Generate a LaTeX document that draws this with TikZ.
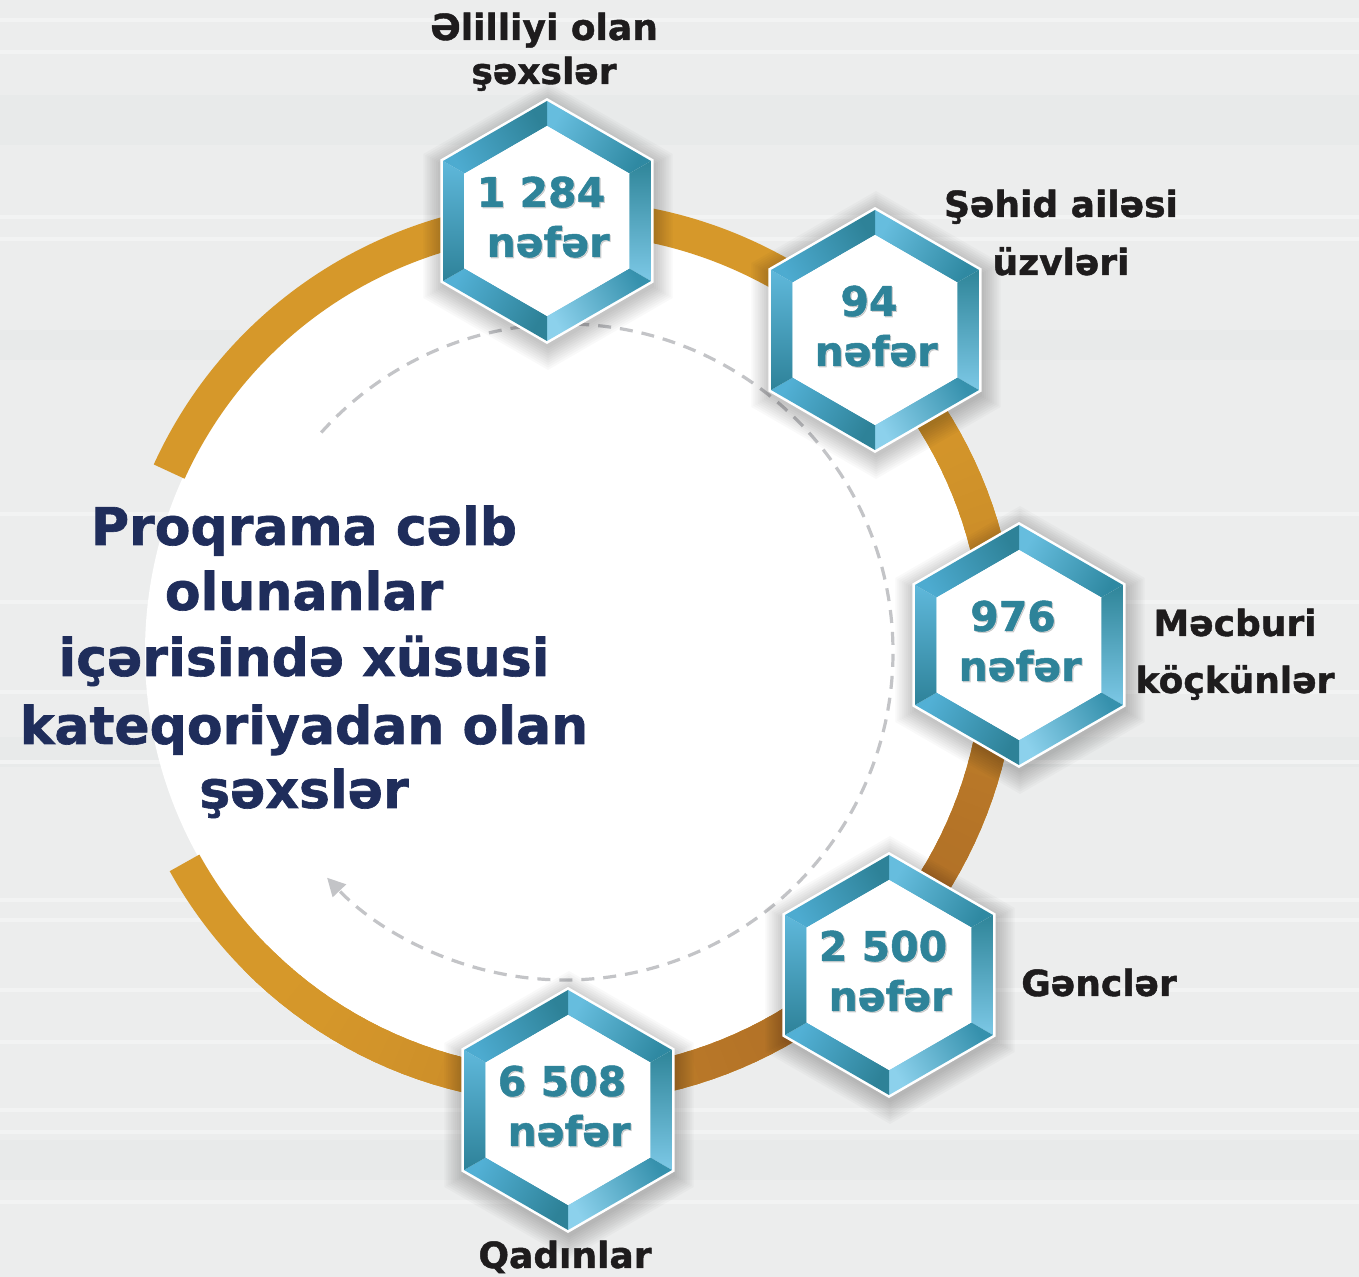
\documentclass[tikz,border=0pt]{standalone}
\usepackage{fontspec}
\setmainfont{DejaVu Sans}
\newfontfamily\heavyfont{DejaVu Sans Bold}[FakeBold=1.2]
\usetikzlibrary{arrows.meta}

\definecolor{bgcol}{HTML}{ECEDED}
\definecolor{stripecol}{HTML}{F2F3F3}
\definecolor{bandcol}{HTML}{E8EAEA}
\definecolor{ringgold}{HTML}{D6982A}
\definecolor{ringbrown}{HTML}{B06F27}
\definecolor{hexteal}{HTML}{2E8399}
\definecolor{navytxt}{HTML}{1F2D5B}
\definecolor{dashgray}{HTML}{C3C4C7}
\definecolor{labtxt}{HTML}{1E1C1D}

\newcommand\hexpath[1]{(90:#1) -- (30:#1) -- (-30:#1) -- (-90:#1) -- (-150:#1) -- (150:#1) -- cycle}

\newcommand\hexbox[4]{%
\begin{scope}[shift={(#1,#2)}]
  \foreach \k in {1,...,10}{
    \fill[black, opacity=0.022] [shift={(1,-5)}] \hexpath{120+2.4*\k};
  }
  \fill[white] \hexpath{123};
  \shade[left color=hexTRs, middle color=hexTRm, right color=hexTRe, shading angle=60]
    (90:120) -- (30:120) -- (30:95) -- (90:95) -- cycle;
  \shade[left color=hexRs, middle color=hexRm, right color=hexRe, shading angle=0]
    (30:120) -- (-30:120) -- (-30:95) -- (30:95) -- cycle;
  \shade[left color=hexBRs, middle color=hexBRm, right color=hexBRe, shading angle=-60]
    (-30:120) -- (-90:120) -- (-90:95) -- (-30:95) -- cycle;
  \shade[left color=hexBLs, middle color=hexBLm, right color=hexBLe, shading angle=-120]
    (-90:120) -- (-150:120) -- (-150:95) -- (-90:95) -- cycle;
  \shade[left color=hexLs, middle color=hexLm, right color=hexLe, shading angle=180]
    (-150:120) -- (150:120) -- (150:95) -- (-150:95) -- cycle;
  \shade[left color=hexTLs, middle color=hexTLm, right color=hexTLe, shading angle=120]
    (150:120) -- (90:120) -- (90:95) -- (150:95) -- cycle;
  \fill[white] \hexpath{95};
  \node[numshadow] (ns#3) at (-4.8,12.8) {#4};
  \node[numtxt] (n#3) at (-6,14) {#4};
  \node[numshadow] (fs#3) at (2.2,-37.2) {nəfər};
  \node[numtxt] (f#3) at (1,-36) {nəfər};
\end{scope}}

\definecolor{hexTRs}{HTML}{66BDDE}\definecolor{hexTRm}{HTML}{A8DEF3}\definecolor{hexTRe}{HTML}{2F89A2}
\definecolor{hexRs}{HTML}{2F8599}\definecolor{hexRm}{HTML}{4AAAD0}\definecolor{hexRe}{HTML}{7CC8E6}
\definecolor{hexBRs}{HTML}{3691AD}\definecolor{hexBRm}{HTML}{5DB7DA}\definecolor{hexBRe}{HTML}{8CD1EC}
\definecolor{hexBLs}{HTML}{2E8298}\definecolor{hexBLm}{HTML}{A3DBF1}\definecolor{hexBLe}{HTML}{52B0D5}
\definecolor{hexLs}{HTML}{2E8299}\definecolor{hexLm}{HTML}{47A6CC}\definecolor{hexLe}{HTML}{5FB8DB}
\definecolor{hexTLs}{HTML}{4DABD0}\definecolor{hexTLm}{HTML}{6ABFE0}\definecolor{hexTLe}{HTML}{2E8298}

\begin{document}
\begin{tikzpicture}[x=0.5pt,y=0.5pt,
  labeltxt/.style={font=\heavyfont\fontsize{18}{18}\selectfont, text=labtxt, anchor=base, inner sep=0pt},
  titletxt/.style={font=\heavyfont\fontsize{26}{26}\selectfont, text=navytxt, anchor=base, inner sep=0pt},
  numtxt/.style={font=\heavyfont\fontsize{20.5}{20.5}\selectfont, text=hexteal, anchor=base, inner sep=0pt},
  numshadow/.style={numtxt, text=black, text opacity=0.15},
  stripe/.style={fill=stripecol},
  ringline/.style={line width=17pt, line cap=butt},
  dasharc/.style={dashgray, line width=1.6pt, dash pattern=on 6.5pt off 4.5pt}
]
\useasboundingbox (0,0) rectangle (1359,1277);
% background
\fill[bgcol] (0,0) rectangle (1359,1277);
\foreach \yb/\h in {1132/50, 917/30, 97/40, 510/30}{
  \fill[bandcol] (0,\yb) rectangle (1359,\yb+\h);
}
\foreach \ys in {18,50,215,237,512,600,690,760,898,918,988,1040,1108,1130,1200}{
  \fill[stripe] (0,1277-\ys) rectangle (1359,1277-\ys-4);
}
\coordinate (c) at (565,625);
% white disc
\fill[white] (c) circle[radius=420];
% ring
\draw[ringline, ringgold] (c) ++(155.5:435) arc[start angle=155.5, end angle=-151, radius=435];
\foreach \a in {44,42,...,-134}{
  \pgfmathsetmacro{\cc}{max(0,cos(\a+45))}
  \pgfmathsetmacro{\w}{100*\cc*\cc}
  \draw[ringline, color=ringbrown!\w!ringgold] (c) ++(\a+1.4:435) arc[start angle=\a+1.4, end angle=\a-1.4, radius=435];
}
% dashed arc
\draw[dasharc, -{Triangle[length=9pt,width=9pt]}] (c) ++(138:328) arc[start angle=138, end angle=-136.5, radius=328];
% hexagons
\hexbox{547}{1056}{1}{1 284}
\hexbox{875}{947}{2}{94}
\hexbox{1019}{632}{3}{976}
\hexbox{889}{302}{4}{2 500}
\hexbox{568}{167}{5}{6 508}
% labels
\node[labeltxt] (l1a) at (544,1237) {Əlilliyi olan};
\node[labeltxt] (l1b) at (544,1193) {şəxslər};
\node[labeltxt] (l2a) at (1061,1060) {Şəhid ailəsi};
\node[labeltxt] (l2b) at (1061,1002) {üzvləri};
\node[labeltxt] (l3a) at (1235,641) {Məcburi};
\node[labeltxt] (l3b) at (1235,584) {köçkünlər};
\node[labeltxt] (l4) at (1099,281) {Gənclər};
\node[labeltxt] (l5) at (565,9) {Qadınlar};
% title
\node[titletxt] (t1) at (304,732) {Proqrama cəlb};
\node[titletxt] (t2) at (304,667) {olunanlar};
\node[titletxt] (t3) at (304,601) {içərisində xüsusi};
\node[titletxt] (t4) at (304,533) {kateqoriyadan olan};
\node[titletxt] (t5) at (304,469) {şəxslər};
\end{tikzpicture}
\end{document}
